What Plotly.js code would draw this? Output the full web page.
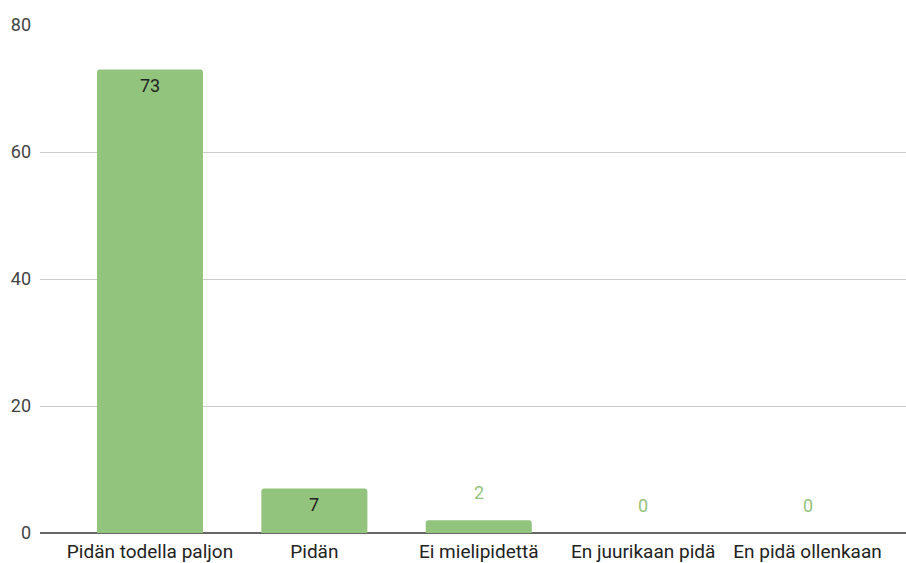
<!DOCTYPE html>
<html>
<head>
<meta charset="utf-8">
<script src="https://cdn.plot.ly/plotly-3.0.1.min.js"></script>
<style>
  html, body { margin: 0; padding: 0; background: #fff; }
  #chart { width: 906px; height: 563px; }
</style>
</head>
<body>
<div id="chart"></div>
<script>
// Survey answers and their counts
const categories = ["Pidän todella paljon", "Pidän", "Ei mielipidettä", "En juurikaan pidä", "En pidä ollenkaan"];
const counts = [73, 7, 2, 0, 0];
const yTicks = [0, 20, 40, 60, 80];

const barColor = "#93c47d";
const fontFamily = "Roboto, Arial, sans-serif";
const fontSize = 18;

// Value labels: inside the bar when it is tall enough, above it otherwise
const labels = counts.map((v, i) => {
  const inside = v >= 5;
  return {
    x: i, y: v, xref: "x", yref: "y",
    text: String(v), showarrow: false,
    yshift: inside ? -16 : 28,
    font: { family: fontFamily, size: fontSize, color: inside ? "#222222" : barColor }
  };
});

const trace = {
  type: "bar",
  x: categories.map((_, i) => i),
  y: counts,
  width: 0.645,
  marker: { color: barColor },
  hoverinfo: "skip"
};

const layout = {
  width: 906, height: 563,
  margin: { l: 40, r: 0, t: 25, b: 30 },
  paper_bgcolor: "#ffffff", plot_bgcolor: "#ffffff",
  showlegend: false,
  barcornerradius: 3,
  font: { family: fontFamily, size: fontSize, color: "#222222" },
  xaxis: {
    range: [-0.669, 4.599],
    tickmode: "array",
    tickvals: categories.map((_, i) => i),
    ticktext: categories,
    showgrid: false, showline: false, ticks: "",
    ticklabelstandoff: 5,
    tickfont: { family: fontFamily, size: 19, color: "#222222" },
    fixedrange: true
  },
  yaxis: {
    range: [0, 80],
    tickmode: "array",
    tickvals: yTicks,
    showgrid: true, gridcolor: "#cccccc", gridwidth: 1,
    zeroline: true, zerolinecolor: "#666666", zerolinewidth: 2,
    showline: false, ticks: "",
    ticklabelstandoff: 8,
    tickfont: { family: fontFamily, size: fontSize, color: "#444444" },
    fixedrange: true
  },
  annotations: labels
};

Plotly.newPlot("chart", [trace], layout, { displayModeBar: false, staticPlot: true });
</script>
</body>
</html>
